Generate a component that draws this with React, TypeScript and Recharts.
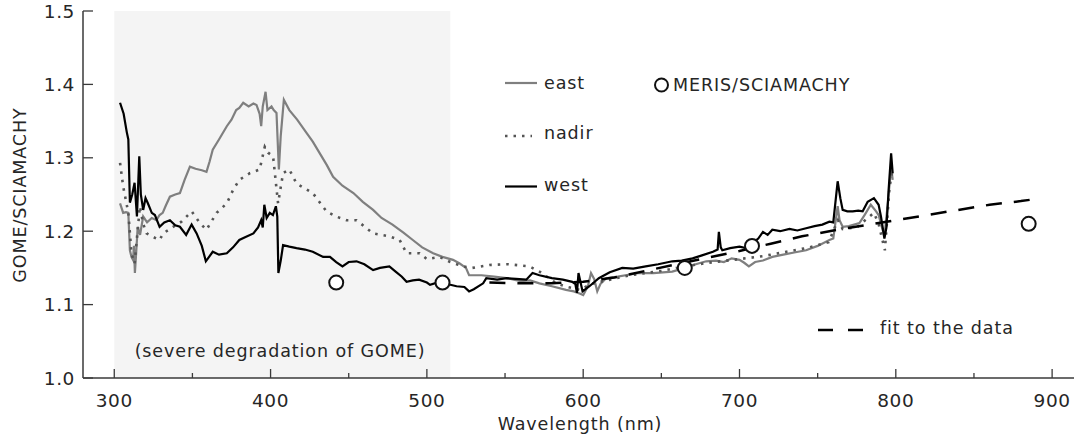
import React from 'react';
import { ComposedChart, Line, Scatter, XAxis, YAxis, ReferenceArea } from 'recharts';

// ---- data (wavelength nm, GOME/SCIAMACHY ratio) ----
const eastPts: [number, number][] = [
  [303.7,1.238],[305.7,1.225],[307.5,1.226],[309,1.225],[310,1.174],[311,1.165],[312,1.161],[312.6,1.18],[313.2,1.143],[314,1.17],[315,1.206],[316.5,1.195],[318.5,1.22],[321,1.212],[324,1.218],[327,1.215],[329,1.222],[331,1.225],[333,1.235],[335.6,1.247],[339,1.25],[342,1.252],[345,1.27],[348.4,1.288],[352,1.285],[356,1.283],[359,1.281],[361,1.295],[363,1.311],[367,1.325],[372,1.343],[375,1.352],[378,1.365],[380,1.368],[382.5,1.375],[386,1.37],[389,1.374],[391,1.372],[393,1.36],[394,1.343],[395,1.37],[396.8,1.39],[398,1.365],[400.6,1.37],[402,1.365],[403.8,1.361],[405.3,1.284],[406.5,1.33],[408.5,1.379],[412,1.365],[417,1.352],[423,1.334],[427,1.322],[431.5,1.306],[436,1.29],[440,1.274],[446,1.262],[453,1.252],[459,1.24],[465.6,1.229],[471,1.218],[478,1.209],[485,1.198],[491,1.188],[497,1.178],[504,1.17],[510,1.165],[516.7,1.161],[521,1.156],[525,1.15],[527,1.14],[535,1.14],[543,1.138],[551,1.136],[560,1.132],[566,1.133],[572,1.129],[580,1.125],[589,1.12],[594,1.118],[597.7,1.115],[600,1.113],[603,1.125],[605,1.143],[607,1.135],[609,1.118],[611,1.128],[614.7,1.136],[622,1.138],[630,1.141],[636,1.143],[645,1.143],[657,1.145],[665,1.15],[672,1.155],[678.7,1.159],[685,1.16],[690,1.158],[695,1.163],[700,1.161],[703,1.157],[706,1.152],[710,1.158],[715,1.16],[721,1.165],[728,1.168],[735,1.171],[742.6,1.174],[750,1.18],[757.5,1.188],[760,1.19],[762.8,1.234],[764,1.215],[766,1.206],[770,1.207],[776.7,1.211],[780,1.222],[784,1.236],[787.4,1.227],[789,1.222],[792.7,1.193],[795,1.24],[797,1.288],[798,1.27]
];

const nadirPts: [number, number][] = [
  [303.7,1.293],[305.7,1.261],[309,1.225],[311,1.17],[313,1.156],[316.4,1.234],[318.5,1.21],[320.7,1.197],[325,1.192],[329,1.188],[331.3,1.197],[337.7,1.206],[343,1.213],[349.5,1.227],[354.8,1.211],[359,1.202],[365.5,1.225],[372,1.238],[376,1.256],[380,1.27],[386.7,1.279],[393,1.284],[396.3,1.315],[398.4,1.307],[401.6,1.302],[404.8,1.238],[408,1.279],[412,1.284],[416.6,1.265],[427,1.252],[435.8,1.227],[442,1.22],[448.6,1.215],[455,1.215],[465.6,1.197],[476,1.193],[482.6,1.188],[487,1.17],[495.4,1.17],[500,1.162],[508,1.165],[515,1.158],[523,1.152],[529,1.15],[540,1.154],[552,1.155],[565.7,1.152],[572,1.145],[582.8,1.129],[590,1.124],[597.7,1.12],[605,1.128],[615,1.133],[630,1.14],[650,1.146],[665,1.152],[680,1.157],[700,1.162],[715,1.166],[730,1.172],[745,1.178],[757,1.185],[763,1.215],[766,1.203],[775,1.205],[782,1.218],[786,1.225],[789,1.21],[793,1.174],[796,1.26],[798,1.285]
];

const westPts: [number, number][] = [
  [303.7,1.375],[306,1.36],[308,1.335],[309,1.325],[310,1.239],[311.5,1.25],[313,1.266],[314.5,1.22],[316,1.302],[317,1.25],[318.5,1.229],[320,1.245],[321.5,1.238],[324,1.225],[326,1.222],[329,1.206],[332,1.212],[335.6,1.215],[339,1.208],[342,1.206],[346,1.195],[349.5,1.209],[352.7,1.197],[356,1.18],[358.6,1.159],[361,1.166],[363,1.172],[367,1.168],[372,1.17],[376,1.178],[380,1.188],[384,1.192],[389,1.197],[392,1.205],[394,1.215],[395,1.205],[396,1.236],[397.5,1.218],[399.5,1.225],[401.5,1.222],[403.4,1.234],[404.3,1.22],[405,1.143],[406.5,1.16],[408,1.181],[412,1.179],[416.6,1.177],[422,1.175],[427,1.172],[433.6,1.165],[438,1.165],[442,1.158],[446,1.152],[450,1.158],[455,1.159],[460,1.155],[465.6,1.147],[470,1.15],[476,1.152],[480,1.145],[484,1.138],[487,1.131],[491,1.133],[495,1.134],[500,1.13],[502,1.127],[508,1.131],[513,1.128],[519,1.125],[524,1.124],[527,1.118],[530,1.121],[536,1.129],[538,1.136],[545,1.134],[551,1.136],[557,1.135],[563.6,1.134],[567.6,1.143],[572,1.14],[580,1.136],[587,1.134],[593,1.131],[595,1.128],[596,1.116],[597,1.143],[599.6,1.118],[604,1.125],[610,1.136],[617,1.144],[625,1.15],[632,1.149],[640,1.152],[648,1.155],[657,1.159],[663,1.16],[670,1.163],[676,1.167],[683,1.172],[686,1.175],[686.8,1.199],[688,1.178],[689,1.174],[694,1.177],[700,1.179],[704,1.177],[708,1.183],[712,1.19],[715,1.199],[718,1.195],[721,1.202],[726,1.2],[732,1.203],[737,1.201],[742.6,1.204],[748,1.207],[753,1.209],[757.5,1.213],[760,1.212],[762.8,1.268],[764.5,1.245],[766,1.229],[769,1.227],[772.4,1.227],[776,1.228],[778.8,1.227],[782,1.24],[786,1.245],[789,1.236],[790.5,1.22],[792.7,1.19],[794,1.205],[795.4,1.256],[797,1.306],[798,1.279]
];

const fitPts: [number, number][] = [
  [540,1.13],[560,1.129],[580,1.129],[600,1.131],[620,1.137],[640,1.146],[660,1.155],[680,1.164],[700,1.173],[720,1.183],[740,1.193],[760,1.201],[780,1.208],[800,1.215],[820,1.222],[840,1.229],[860,1.236],[880,1.241],[890,1.244]
];

const merisX = [442, 510, 665, 708, 885];
const merisY = [1.13, 1.13, 1.15, 1.18, 1.21];

const xTicks = [300, 350, 400, 450, 500, 550, 600, 650, 700, 750, 800, 850, 900];
const xLabelTicks = [300, 400, 500, 600, 700, 800, 900];
const yTicks = [1.0, 1.1, 1.2, 1.3, 1.4, 1.5];
const yTickLabels = ['1.0', '1.1', '1.2', '1.3', '1.4', '1.5'];

const degradedRange = [300, 515];

const toRows = (pts: [number, number][]) => pts.map(([x, y]) => ({ x, y }));
const east = toRows(eastPts);
const nadir = toRows(nadirPts);
const west = toRows(westPts);
const fit = toRows(fitPts);
const meris = merisX.map((x, i) => ({ x, y: merisY[i] }));

const FONT = "'DejaVu Sans', sans-serif";
const TXT = '#262626';
const AX = '#3a3a3a';
const FW = 400;

const BottomTick = (p: any) => {
  const v = p.payload.value;
  const major = xLabelTicks.includes(v);
  return (
    <g>
      <line x1={p.x} x2={p.x} y1={p.y} y2={p.y - (major ? 9 : 5)} stroke={AX} strokeWidth={1.3} />
      {major && (
        <text x={p.x} y={p.y + 22} textAnchor="middle" dominantBaseline="central" fontFamily={FONT}
          fontSize={18.5} fontWeight={FW} letterSpacing={0.6} fill={TXT}>
          {v}
        </text>
      )}
    </g>
  );
};

const TopTick = (p: any) => {
  const v = p.payload.value;
  const major = xLabelTicks.includes(v);
  return <line x1={p.x} x2={p.x} y1={p.y} y2={p.y + (major ? 9 : 5)} stroke={AX} strokeWidth={1.3} />;
};

const LeftTick = (p: any) => {
  const v = p.payload.value;
  const i = yTicks.findIndex((t) => Math.abs(t - v) < 1e-6);
  return (
    <g>
      <line x1={p.x} x2={p.x + 10} y1={p.y} y2={p.y} stroke={AX} strokeWidth={1.3} />
      <text x={p.x - 8} y={p.y} textAnchor="end" dominantBaseline="central" fontFamily={FONT}
        fontSize={18.5} fontWeight={FW} letterSpacing={0.6} fill={TXT}>
        {i >= 0 ? yTickLabels[i] : v}
      </text>
    </g>
  );
};

const RightTick = (p: any) => <line x1={p.x} x2={p.x - 4} y1={p.y} y2={p.y} stroke={AX} strokeWidth={1.3} />;

const Circle = (p: any) => <circle cx={p.cx} cy={p.cy} r={7} fill="#fff" stroke="#111" strokeWidth={2} />;

export default function App() {
  return (
    <div style={{ position: 'absolute', left: 0, top: 0, width: 1076, height: 437, background: '#fff' }}>
      <ComposedChart width={1076} height={437} margin={{ top: 11, right: 2, bottom: 0, left: 0 }}>
        <XAxis xAxisId="b" type="number" dataKey="x" domain={[280, 914]} ticks={xTicks} allowDataOverflow
          orientation="bottom" height={59} tickSize={0} tickMargin={0} tick={BottomTick} interval={0}
          axisLine={{ stroke: AX, strokeWidth: 1.5 }} />
        <XAxis xAxisId="t" type="number" dataKey="x" domain={[280, 914]} ticks={xTicks} allowDataOverflow
          orientation="top" height={0} tickSize={0} tickMargin={0} tick={TopTick} interval={0}
          axisLine={{ stroke: AX, strokeWidth: 1.5 }} />
        <YAxis yAxisId="l" type="number" domain={[1.0, 1.5]} ticks={yTicks} allowDataOverflow
          width={83} tickSize={0} tickMargin={0} tick={LeftTick} interval={0}
          axisLine={{ stroke: AX, strokeWidth: 1.5 }} />
        <YAxis yAxisId="r" orientation="right" type="number" domain={[1.0, 1.5]} ticks={yTicks} allowDataOverflow
          width={0} tickSize={0} tickMargin={0} tick={RightTick} interval={0}
          axisLine={{ stroke: AX, strokeWidth: 1.5 }} />
        <ReferenceArea xAxisId="b" yAxisId="l" x1={degradedRange[0]} x2={degradedRange[1]} y1={1.0} y2={1.5}
          fill="#f4f4f4" fillOpacity={1} stroke="none" ifOverflow="hidden" />
        <Line xAxisId="b" yAxisId="l" data={east} dataKey="y" type="linear" stroke="#7f7f7f" strokeWidth={2.2}
          dot={false} isAnimationActive={false} />
        <Line xAxisId="b" yAxisId="l" data={nadir} dataKey="y" type="linear" stroke="#555" strokeWidth={2.6}
          strokeDasharray="2.5 6" dot={false} isAnimationActive={false} />
        <Line xAxisId="b" yAxisId="l" data={west} dataKey="y" type="linear" stroke="#000" strokeWidth={2.2}
          dot={false} isAnimationActive={false} />
        <Line xAxisId="b" yAxisId="l" data={fit} dataKey="y" type="linear" stroke="#000" strokeWidth={2.5}
          strokeDasharray="16 12" dot={false} isAnimationActive={false} />
        <Scatter xAxisId="b" yAxisId="l" data={meris} dataKey="y" shape={Circle} isAnimationActive={false} />
      </ComposedChart>
      <svg width={1076} height={437} style={{ position: 'absolute', left: 0, top: 0, pointerEvents: 'none' }}>
        <g fontFamily={FONT} fontSize={17.5} fontWeight={FW} letterSpacing={0.9} fill={TXT}>
          <line x1={505} x2={537} y1={83} y2={83} stroke="#7f7f7f" strokeWidth={2.2} />
          <text x={544} y={83} dominantBaseline="central">east</text>
          <line x1={505} x2={532} y1={136} y2={136} stroke="#555" strokeWidth={2.6} strokeDasharray="2.5 6" />
          <text x={544} y={133} dominantBaseline="central">nadir</text>
          <line x1={505} x2={537} y1={186.5} y2={186.5} stroke="#000" strokeWidth={2.2} />
          <text x={544} y={185} dominantBaseline="central">west</text>
          <circle cx={661.5} cy={85} r={6.5} fill="#fff" stroke="#111" strokeWidth={2} />
          <text x={673} y={85} dominantBaseline="central">MERIS/SCIAMACHY</text>
          <line x1={818} x2={833} y1={330} y2={330} stroke="#000" strokeWidth={2.5} />
          <line x1={848} x2={863} y1={330} y2={330} stroke="#000" strokeWidth={2.5} />
          <text x={880} y={328} dominantBaseline="central">fit to the data</text>
          <text x={280} y={351} textAnchor="middle" dominantBaseline="central">(severe degradation of GOME)</text>
          <text x={580} y={424} textAnchor="middle" dominantBaseline="central">Wavelength (nm)</text>
          <text x={20} y={195} textAnchor="middle" dominantBaseline="central" transform="rotate(-90 20 195)">GOME/SCIAMACHY</text>
        </g>
      </svg>
    </div>
  );
}
